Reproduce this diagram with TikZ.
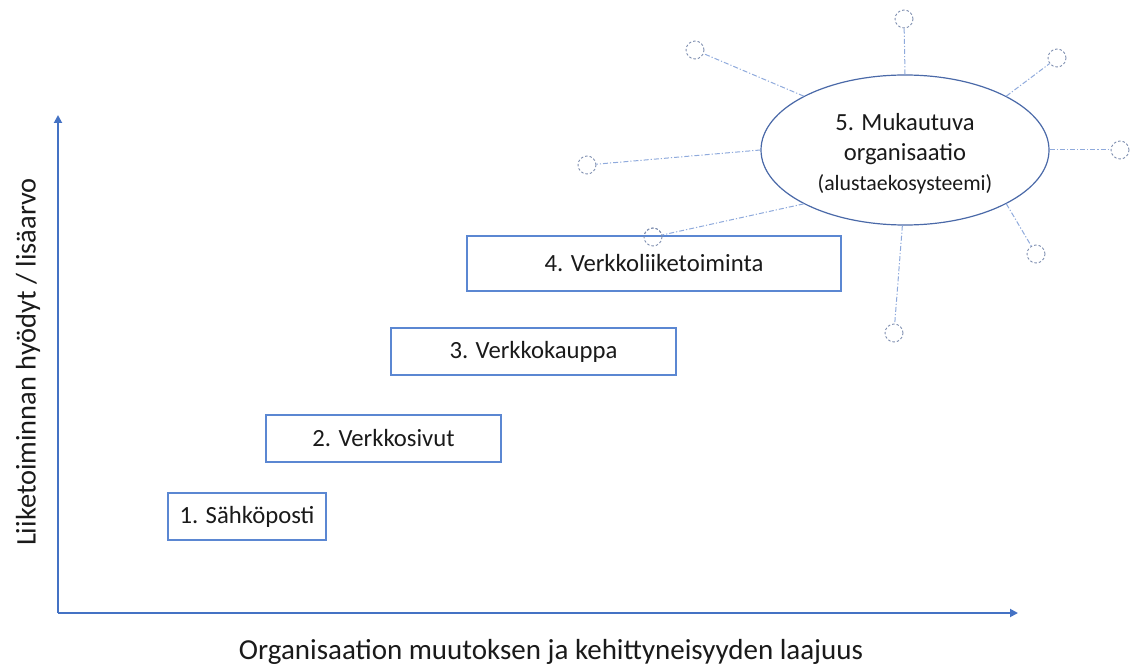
\documentclass[tikz,border=0pt]{standalone}
\usepackage{fontspec}
\setmainfont{Carlito}
\usetikzlibrary{shapes.geometric,arrows.meta}

\definecolor{axisblue}{HTML}{4472C4}
\definecolor{boxblue}{HTML}{5B87D2}
\definecolor{ellblue}{HTML}{4A69A8}
\definecolor{linkblue}{HTML}{8FAADC}
\definecolor{dotgray}{HTML}{7F8FB0}
\definecolor{txt}{HTML}{1A1A1A}

\tikzset{
  stage/.style={draw=boxblue, line width=1.2pt, fill=white, text=txt,
    font=\fontsize{24.7}{29}\selectfont, inner sep=0pt, minimum height=47pt},
  hub/.style={ellipse, draw=ellblue, line width=1.2pt, fill=white,
    inner sep=0pt, minimum width=288pt, minimum height=150pt},
  hubtext/.style={text=txt, align=center, inner sep=0pt,
    font=\fontsize{24.6}{30}\selectfont},
  sat/.style={circle, draw=dotgray, line width=0.9pt,
    dash pattern=on 2.5pt off 2pt, minimum size=18pt, inner sep=0pt},
  link/.style={draw=linkblue, line width=1pt,
    dash pattern=on 5pt off 2pt on 1.2pt off 2pt},
  axis/.style={draw=axisblue, line width=1.8pt,
    -{Triangle[width=8pt,length=8pt]}},
  axislabel/.style={text=txt, inner sep=0pt}
}

\begin{document}
\begin{tikzpicture}[x=1pt,y=-1pt]
  \useasboundingbox (0,0) rectangle (1133,666);

  % axes
  \coordinate (O) at (58,613);
  \coordinate (ytip) at (58,115);
  \coordinate (xtip) at (1018,613);
  \draw[axis] (O) -- (ytip);
  \draw[axis] (O) -- (xtip);
  \node[axislabel, anchor=base, font=\fontsize{29}{34}\selectfont] (xlab) at (551,659)
    {Organisaation muutoksen ja kehittyneisyyden laajuus};
  \node[axislabel, rotate=90, font=\fontsize{28.4}{34}\selectfont] (ylab) at (28,362)
    {Liiketoiminnan hyödyt / lisäarvo};

  % satellites of the ecosystem
  \node[sat] (s1) at (904,19) {};
  \node[sat] (s2) at (1057,58) {};
  \node[sat] (s3) at (1120,150) {};
  \node[sat] (s4) at (1036,254) {};
  \node[sat] (s5) at (894,333) {};
  \node[sat] (s6) at (653,237) {};
  \node[sat] (s7) at (587,165) {};
  \node[sat] (s8) at (695,50) {};

  % stages
  \node[stage, minimum width=158pt] (b1) at (247,516.5) {1. Sähköposti};
  \node[stage, minimum width=235pt] (b2) at (383.5,438.5) {2. Verkkosivut};
  \node[stage, minimum width=285pt] (b3) at (533.5,351.5) {3. Verkkokauppa};
  \node[stage, minimum width=374pt, minimum height=55pt] (b4) at (654,263.5) {4. Verkkoliiketoiminta};

  % central ellipse and its text
  \node[hub] (hub) at (905,150) {};
  \node[hubtext] (hublabel) at ([yshift=-4pt]hub.center) {%
    5. Mukautuva\\
    organisaatio\\
    {\fontsize{21.8}{30}\selectfont (alustaekosysteemi)}};

  % links from the ellipse to the satellites
  \draw[link] (hub.90) -- (s1);
  \draw[link] (hub.28) -- (s2);
  \draw[link] (hub.0) -- (s3);
  \draw[link] (hub.-28) -- (s4);
  \draw[link] (hub.-92) -- (s5);
  \draw[link] (hub.208) -- (s6);
  \draw[link] (hub.180) -- (s7);
  \draw[link] (hub.152) -- (s8);

  % redraw the satellite over box 4
  \node[sat] at (s6) {};
\end{tikzpicture}
\end{document}
